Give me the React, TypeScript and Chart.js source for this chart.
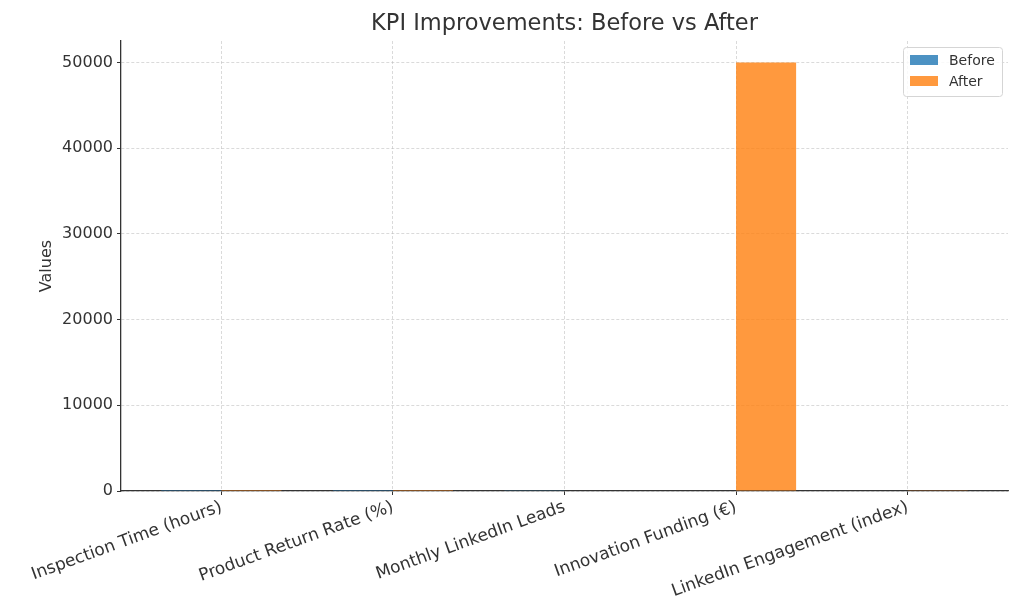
import React, { useEffect, useRef } from "react";
import { Chart, registerables } from "chart.js";

Chart.register(...registerables);

const TITLE = "KPI Improvements: Before vs After";
const Y_LABEL = "Values";
const CATEGORIES = [
  "Inspection Time (hours)",
  "Product Return Rate (%)",
  "Monthly LinkedIn Leads",
  "Innovation Funding (€)",
  "LinkedIn Engagement (index)",
];
const BEFORE = [8, 5, 20, 0, 60];
const AFTER = [4, 2, 45, 50000, 75];
const Y_TICKS = [0, 10000, 20000, 30000, 40000, 50000];
const SERIES_LABELS = ["Before", "After"];
const COLORS = ["rgba(31,119,180,0.8)", "rgba(255,127,14,0.8)"];

const FONT = '"DejaVu Sans", sans-serif';
const TEXT = "#333333";

const decor = {
  id: "decor",
  afterDraw(chart: any) {
    const { ctx, chartArea: a } = chart;
    ctx.save();
    ctx.fillStyle = TEXT;
    ctx.textAlign = "center";
    ctx.textBaseline = "middle";
    ctx.font = `22.5px ${FONT}`;
    ctx.fillText(TITLE, (a.left + a.right) / 2, 24);

    ctx.save();
    ctx.translate(47, (a.top + a.bottom) / 2);
    ctx.rotate(-Math.PI / 2);
    ctx.font = `16px ${FONT}`;
    ctx.fillText(Y_LABEL, 0, 0);
    ctx.restore();

    // legend
    const lx = 903, ly = 47, lw = 99, lh = 49;
    ctx.fillStyle = "rgba(255,255,255,0.85)";
    ctx.strokeStyle = "#d5d5d5";
    ctx.lineWidth = 1;
    ctx.beginPath();
    (ctx as any).roundRect(lx + 0.5, ly + 0.5, lw, lh, 3);
    ctx.fill();
    ctx.stroke();
    ctx.font = `14px ${FONT}`;
    ctx.textAlign = "left";
    SERIES_LABELS.forEach((lab, i) => {
      const y = ly + 13 + i * 21;
      ctx.fillStyle = COLORS[i];
      ctx.fillRect(lx + 7, y - 5, 28, 10);
      ctx.fillStyle = TEXT;
      ctx.fillText(lab, lx + 46, y + 1);
    });
    ctx.restore();
  },
};

export default function App() {
  const ref = useRef<HTMLCanvasElement>(null);
  useEffect(() => {
    document.body.style.margin = "0";
    const chart = new Chart(ref.current!, {
      type: "bar",
      data: {
        datasets: [
          {
            label: SERIES_LABELS[0],
            data: BEFORE.map((v, i) => ({ x: i, y: v })),
            backgroundColor: COLORS[0],
          },
          {
            label: SERIES_LABELS[1],
            data: AFTER.map((v, i) => ({ x: i, y: v })),
            backgroundColor: COLORS[1],
          },
        ],
      },
      options: {
        responsive: false,
        animation: false,
        layout: { padding: { top: 41, right: 16, left: 0, bottom: 0 } },
        datasets: { bar: { categoryPercentage: 0.7, barPercentage: 1.0, borderWidth: 0 } },
        plugins: {
          legend: { display: false },
          title: { display: false },
          tooltip: { enabled: false },
        },
        scales: {
          x: {
            type: "linear",
            offset: false,
            min: -0.585,
            max: 4.585,
            afterBuildTicks: (axis: any) => {
              axis.ticks = CATEGORIES.map((_, i) => ({ value: i }));
            },
            afterFit: (axis: any) => {
              axis.height = 123;
            },
            ticks: {
              autoSkip: false,
              minRotation: 20,
              maxRotation: 20,
              padding: 2,
              color: TEXT,
              font: { family: FONT, size: 17 },
              callback: (v: any) => CATEGORIES[v as number] ?? "",
            },
            grid: {
              offset: false,
              color: "rgba(176,176,176,0.6)",
              lineWidth: 0.8,
              tickColor: TEXT,
              tickLength: 4,
              tickWidth: 1,
            },
            border: { color: TEXT, width: 1.3, dash: [3, 2] },
          },
          y: {
            min: 0,
            max: 52500,
            afterBuildTicks: (axis: any) => {
              axis.ticks = Y_TICKS.map((v) => ({ value: v }));
            },
            afterFit: (axis: any) => {
              axis.width = 121;
            },
            ticks: {
              padding: 4,
              color: TEXT,
              font: { family: FONT, size: 16 },
              callback: (v: any) => String(v),
            },
            grid: {
              color: "rgba(176,176,176,0.6)",
              lineWidth: 0.8,
              tickColor: TEXT,
              tickLength: 4,
              tickWidth: 1,
            },
            border: { color: TEXT, width: 1.3, dash: [3, 2] },
          },
        },
      },
      plugins: [decor],
    } as any);
    return () => chart.destroy();
  }, []);
  return (
    <div style={{ position: "fixed", left: 0, top: 0, width: 1024, height: 614 }}>
      <canvas ref={ref} width={1024} height={614} />
    </div>
  );
}
